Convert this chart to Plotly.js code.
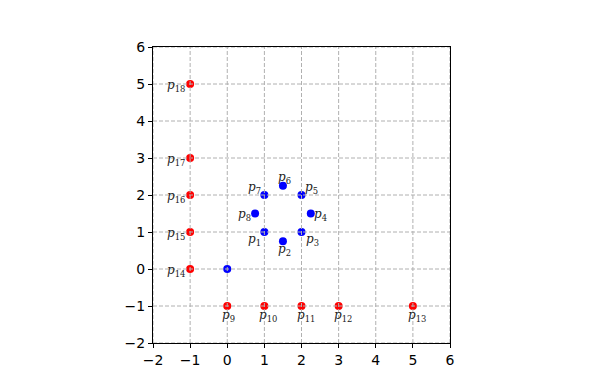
<!DOCTYPE html>
<html>
<head>
<meta charset="utf-8">
<script src="https://cdn.plot.ly/plotly-3.0.1.min.js"></script>
<style>html,body{margin:0;padding:0;background:#fff;}#chart{width:589px;height:392px;}</style>
</head>
<body>
<div id="chart"></div>
<script>
// Blue points (octagon + origin)
const blueX = [1, 1.5, 2, 2.25, 2, 1.5, 1, 0.75, 0];
const blueY = [1, 0.75, 1, 1.5, 2, 2.25, 2, 1.5, 0];
const blueLabels = ['1','2','3','4','5','6','7','8',''];
// Red points
const redX = [0, 1, 2, 3, 5, -1, -1, -1, -1, -1];
const redY = [-1, -1, -1, -1, -1, 0, 1, 2, 3, 5];
const redLabels = ['9','10','11','12','13','14','15','16','17','18'];
// Axis ticks
const tickVals = [-2, -1, 0, 1, 2, 3, 4, 5, 6];
const axisRange = [-2, 6];

// label placement styles (anchor, pixel shifts)
const blueStyle = [
  ['right', -2, -8], ['left', -6, -9], ['left', 3, -8], ['left', 2, -1],
  ['left', 2, 7], ['left', -6, 8], ['right', -2, 7], ['right', -3, -1], null
];
const redStyle = [
  ['left', -6, -10], ['left', -6, -10], ['left', -6, -10], ['left', -6, -10], ['left', -6, -10],
  ['right', -4, -2], ['right', -4, -2], ['right', -4, -2], ['right', -4, -2], ['right', -4, -2]
];

function lab(s){ return '<i>p</i><sub>' + s + '</sub>'; }

const traces = [];
traces.push({
  x: blueX, y: blueY, mode: 'markers', type: 'scatter',
  marker: {color: '#0000ff', size: 8}, hoverinfo: 'none'
});
traces.push({
  x: redX, y: redY, mode: 'markers', type: 'scatter',
  marker: {color: '#ff0000', size: 8}, hoverinfo: 'none'
});
// grid lines drawn on top of markers (as in reference)
const gx = [], gy = [];
tickVals.forEach(v => {
  gx.push(v, v, null); gy.push(axisRange[0], axisRange[1], null);
  gx.push(axisRange[0], axisRange[1], null); gy.push(v, v, null);
});
traces.push({
  x: gx, y: gy, mode: 'lines', type: 'scatter',
  line: {color: '#b0b0b0', width: 1, dash: '4px,2px'}, hoverinfo: 'none'
});

const labFont = {family: 'DejaVu Serif', size: 12, color: '#222'};
const annotations = [];
function addLabels(xs, ys, labels, styles){
  labels.forEach((s, i) => {
    if (!s || !styles[i]) return;
    annotations.push({
      x: xs[i], y: ys[i], xref: 'x', yref: 'y', text: lab(s), showarrow: false,
      xanchor: styles[i][0], yanchor: 'middle', xshift: styles[i][1], yshift: styles[i][2],
      font: labFont, borderpad: 0
    });
  });
}
addLabels(blueX, blueY, blueLabels, blueStyle);
addLabels(redX, redY, redLabels, redStyle);

const axisCommon = {
  range: axisRange, tickvals: tickVals, showgrid: false, zeroline: false,
  showline: true, mirror: true, linecolor: '#000', linewidth: 1,
  ticks: 'outside', ticklen: 4, tickcolor: '#000', tickwidth: 1,
  tickfont: {family: 'DejaVu Sans', size: 14, color: '#000'}
};

const layout = {
  width: 589, height: 392,
  margin: {l: 153, r: 139, t: 47, b: 49},
  paper_bgcolor: '#fff', plot_bgcolor: '#fff',
  showlegend: false,
  xaxis: Object.assign({}, axisCommon),
  yaxis: Object.assign({}, axisCommon),
  annotations: annotations
};

Plotly.newPlot('chart', traces, layout, {staticPlot: true});
</script>
</body>
</html>
